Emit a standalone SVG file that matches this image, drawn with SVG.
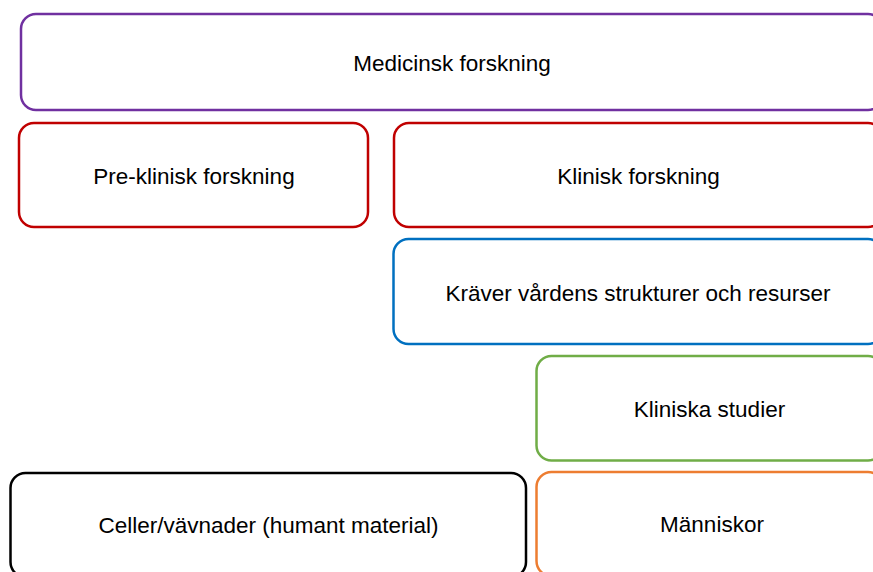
<svg xmlns="http://www.w3.org/2000/svg" width="873" height="572" viewBox="0 0 873 572">
<style>
  .box { fill: #ffffff; stroke-width: 2.5; }
  .lbl { font-family: "Liberation Sans", Arial, sans-serif; font-size: 22.5px; fill: #000000; text-anchor: middle; }
</style>
<rect x="0" y="0" width="873" height="572" fill="#ffffff"/>
<g id="medicinsk-forskning">
  <rect class="box" x="21" y="14" width="862" height="96" rx="15" ry="15" stroke="#7030A0"/>
  <text class="lbl" x="452" y="71">Medicinsk forskning</text>
</g>
<g id="pre-klinisk-forskning">
  <rect class="box" x="19" y="123" width="349" height="104" rx="15" ry="15" stroke="#C00000"/>
  <text class="lbl" x="194" y="184">Pre-klinisk forskning</text>
</g>
<g id="klinisk-forskning">
  <rect class="box" x="394" y="123" width="489" height="104" rx="15" ry="15" stroke="#C00000"/>
  <text class="lbl" x="638.5" y="184">Klinisk forskning</text>
</g>
<g id="kraver-vardens">
  <rect class="box" x="393.5" y="239" width="489.5" height="105" rx="15" ry="15" stroke="#0070C0"/>
  <text class="lbl" x="638" y="301">Kräver vårdens strukturer och resurser</text>
</g>
<g id="kliniska-studier">
  <rect class="box" x="536.5" y="356" width="346.5" height="104.5" rx="15" ry="15" stroke="#70AD47"/>
  <text class="lbl" x="709.5" y="417">Kliniska studier</text>
</g>
<g id="manniskor">
  <rect class="box" x="536.5" y="472" width="346.5" height="104" rx="15" ry="15" stroke="#ED7D31"/>
  <text class="lbl" x="712" y="532">Människor</text>
</g>
<g id="celler-vavnader">
  <rect class="box" x="10.5" y="473" width="515.5" height="104" rx="15" ry="15" stroke="#000000"/>
  <text class="lbl" x="268.5" y="533">Celler/vävnader (humant material)</text>
</g>
<g id="connectors"></g>
</svg>
